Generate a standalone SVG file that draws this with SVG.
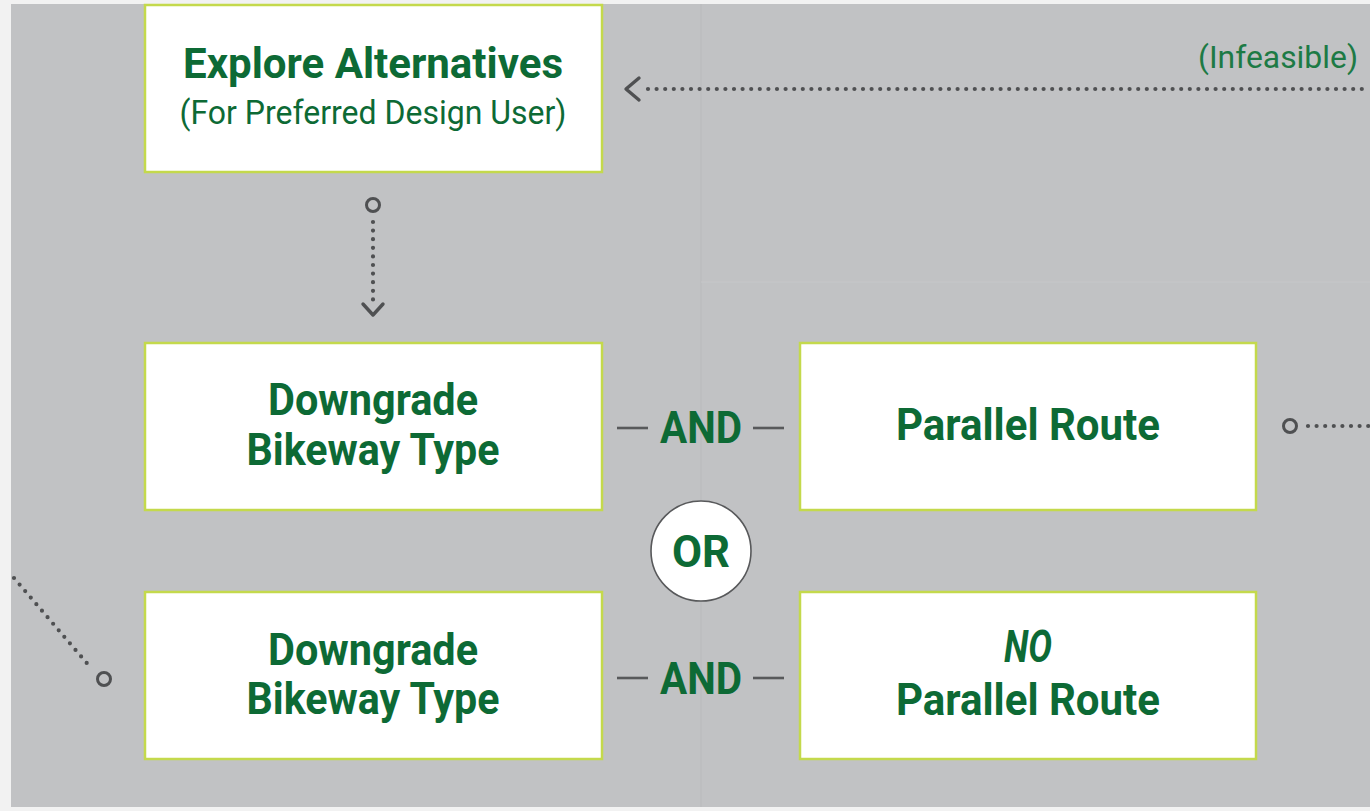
<svg xmlns="http://www.w3.org/2000/svg" width="1370" height="811" viewBox="0 0 1370 811">
<style>
.bg{fill:#c1c2c4}
.box{fill:#ffffff;stroke:#c4d94c;stroke-width:2.5}
.t{font-family:Roboto,"Liberation Sans",sans-serif;fill:#0d6a35;text-anchor:middle}
.b{font-weight:bold;font-size:45px}
.r{font-weight:normal;font-size:34px}
.dot{fill:none;stroke:#4f5052;stroke-width:4.2;stroke-linecap:round;stroke-dasharray:0 8.6}
.ring{fill:none;stroke:#4f5052;stroke-width:3}
.chev{fill:none;stroke:#4f5052;stroke-width:3.4;stroke-linecap:round;stroke-linejoin:round}
.dash{stroke:#58595b;stroke-width:2.6}
</style>
<rect width="1370" height="811" fill="#f2f2f2"/>
<rect class="bg" x="11" y="4" width="1359" height="803"/>
<line x1="701" y1="4" x2="701" y2="807" stroke="#b9babc" stroke-width="1"/>
<line x1="701" y1="282" x2="1370" y2="282" stroke="#c6c7c9" stroke-width="1"/>

<g id="connectors">
  <line class="dot" x1="648" y1="89" x2="1370" y2="89"/>
  <polyline class="chev" points="639,78 626,89 639,100"/>
  <circle class="ring" cx="373" cy="205" r="6.5"/>
  <line class="dot" x1="373" y1="222" x2="373" y2="300"/>
  <polyline class="chev" points="363,304 373,315 383,304"/>
  <circle class="ring" cx="1290" cy="426" r="6.5"/>
  <line class="dot" x1="1308" y1="426" x2="1370" y2="426"/>
  <line class="dot" x1="14" y1="578" x2="91" y2="668"/>
  <circle class="ring" cx="104" cy="679" r="6.5"/>
  <line class="dash" x1="617" y1="428" x2="648" y2="428"/>
  <line class="dash" x1="753" y1="428" x2="784" y2="428"/>
  <line class="dash" x1="617" y1="678" x2="648" y2="678"/>
  <line class="dash" x1="753" y1="678" x2="784" y2="678"/>
  <text class="t b" x="701" y="443" textLength="82" lengthAdjust="spacingAndGlyphs">AND</text>
  <text class="t b" x="701" y="694" textLength="82" lengthAdjust="spacingAndGlyphs">AND</text>
  <text class="t r" x="1278" y="68" style="font-size:32px;fill:#1d7a45" textLength="160" lengthAdjust="spacingAndGlyphs">(Infeasible)</text>
</g>

<g id="explore">
  <rect class="box" x="145" y="5" width="457" height="167"/>
  <text class="t b" x="373" y="78" style="font-size:43px" textLength="380" lengthAdjust="spacingAndGlyphs">Explore Alternatives</text>
  <text class="t r" x="373" y="124" textLength="387" lengthAdjust="spacingAndGlyphs">(For Preferred Design User)</text>
</g>

<g id="downgrade1">
  <rect class="box" x="145" y="343" width="457" height="167"/>
  <text class="t b" x="373" y="415" textLength="210" lengthAdjust="spacingAndGlyphs">Downgrade</text>
  <text class="t b" x="373" y="465" textLength="253" lengthAdjust="spacingAndGlyphs">Bikeway Type</text>
</g>

<g id="downgrade2">
  <rect class="box" x="145" y="592" width="457" height="167"/>
  <text class="t b" x="373" y="665" textLength="210" lengthAdjust="spacingAndGlyphs">Downgrade</text>
  <text class="t b" x="373" y="714" textLength="253" lengthAdjust="spacingAndGlyphs">Bikeway Type</text>
</g>

<g id="parallel">
  <rect class="box" x="800" y="343" width="456" height="167"/>
  <text class="t b" x="1028" y="440" textLength="264" lengthAdjust="spacingAndGlyphs">Parallel Route</text>
</g>

<g id="noparallel">
  <rect class="box" x="800" y="592" width="456" height="167"/>
  <text class="t b" x="1028" y="662" font-style="italic" textLength="48" lengthAdjust="spacingAndGlyphs">NO</text>
  <text class="t b" x="1028" y="715" textLength="264" lengthAdjust="spacingAndGlyphs">Parallel Route</text>
</g>

<g id="or">
  <circle cx="701" cy="551" r="50" fill="#ffffff" stroke="#58595b" stroke-width="1.6"/>
  <text class="t b" x="701" y="567" textLength="58" lengthAdjust="spacingAndGlyphs">OR</text>
</g>
</svg>
